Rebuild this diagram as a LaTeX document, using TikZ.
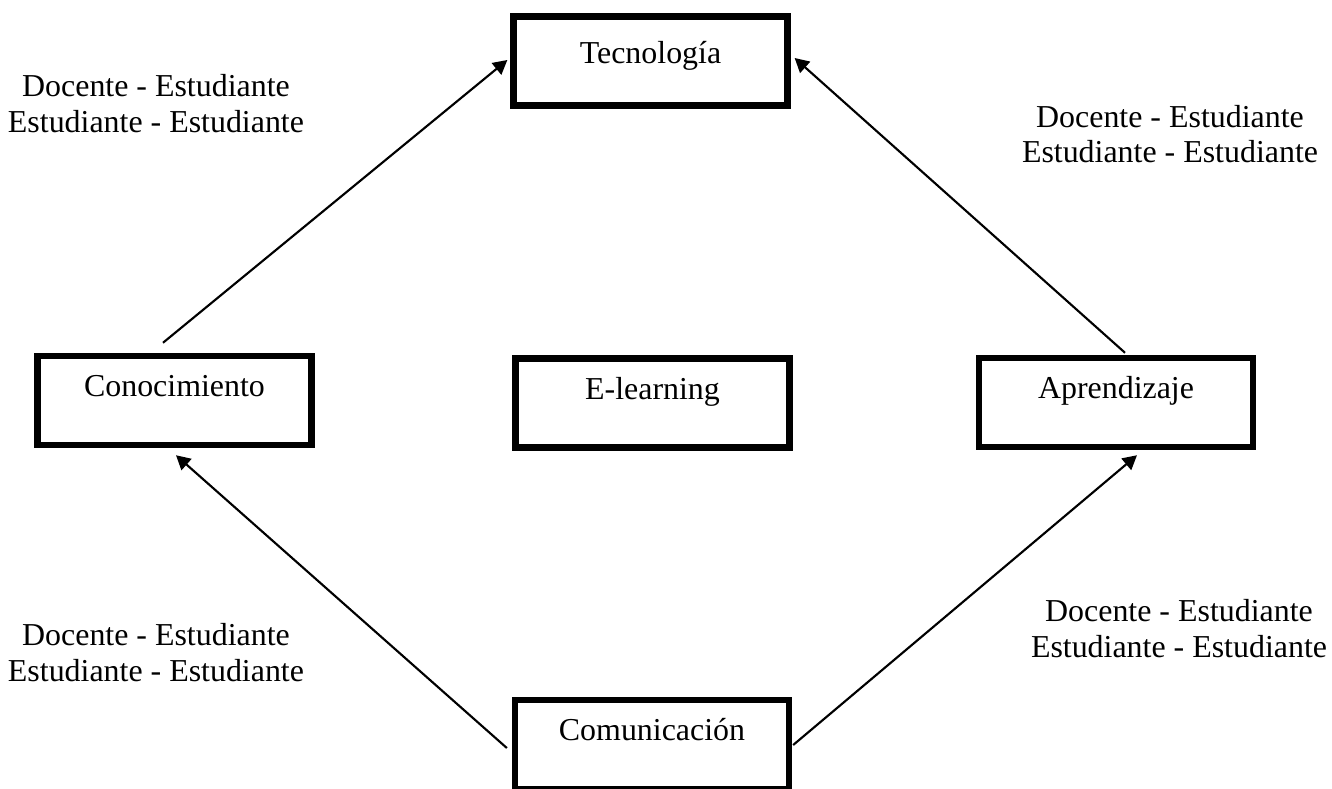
\documentclass[tikz,border=0pt]{standalone}
\usepackage{fontspec}
\setmainfont{Liberation Serif}
\usetikzlibrary{calc,arrows.meta}
\tikzset{
  concept/.style={
    shape = rectangle,
    draw,
    line width = 2.4pt,
    inner sep = 0pt,
    minimum width = 103pt,
    text height = 15.4pt,
    text depth = 18.1pt,
    font = \fontsize{12}{13.2}\selectfont
  },
  relation/.style={
    line width = 0.8pt,
    -{Triangle[length=5.3pt,width=5.6pt]}
  },
  pairs/.style={
    align = center,
    inner sep = 0pt,
    font = \fontsize{12}{13.2}\selectfont
  }
}

\begin{document}
\begin{tikzpicture}[x=0.376pt,y=-0.376pt]
        \useasboundingbox (0,0) rectangle (1332,789);
        \node[concept, text height=17.7pt, text depth=15.8pt] (tec) at (650.5,61) {Tecnología};
        \node[concept] (cono) at (174.5,400.5) {Conocimiento};
        \node[concept] (elearn) at (652.5,403) {E-learning};
        \node[concept] (apr) at (1116,402.5) {Aprendizaje};
        \node[concept] (com) at (652,744.5) {Comunicación};
        \draw[relation] ($(cono.north)+(-11.5,-10)$) -- ($(tec.west)+(-3,-1)$);
        \draw[relation] ($(apr.north)+(9,-2)$) -- ($(tec.east)+(4,-3)$);
        \draw[relation] ($(com.west)+(-5,3.5)$) -- ($(cono.south)+(1.5,7)$);
        \draw[relation] ($(com.east)+(1,0.5)$) -- ($(apr.south)+(21,5)$);
        \node[pairs] (pairTL) at (156,103.6) {Docente - Estudiante\\Estudiante - Estudiante};
        \node[pairs] (pairTR) at (1170,134.1) {Docente - Estudiante\\Estudiante - Estudiante};
        \node[pairs] (pairBL) at (156,652.6) {Docente - Estudiante\\Estudiante - Estudiante};
        \node[pairs] (pairBR) at (1179,628.6) {Docente - Estudiante\\Estudiante - Estudiante};
    \end{tikzpicture}
\end{document}
